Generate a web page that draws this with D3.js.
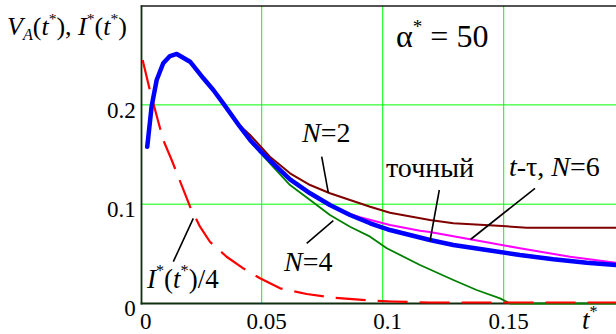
<!DOCTYPE html>
<html>
<head>
<meta charset="utf-8">
<script src="https://cdnjs.cloudflare.com/ajax/libs/d3/7.8.5/d3.min.js"></script>
<style>
  html, body { margin: 0; padding: 0; background: #fff; }
  svg { display: block; }
</style>
</head>
<body>
<svg id="chart" width="616" height="334"></svg>
<script>
// Axis ticks
const xTicks = [0, 0.05, 0.1, 0.15];
const yTicks = [0, 0.1, 0.2];

// Exact solution V_A(t*)
const tExact = [0.0027, 0.0045, 0.0066, 0.0093, 0.0121, 0.0149, 0.0204, 0.0259, 0.0300, 0.0341, 0.0410, 0.0452, 0.0493, 0.0534, 0.0617, 0.0700, 0.0782, 0.0865, 0.0948, 0.1030, 0.1195, 0.1292, 0.1430, 0.1567, 0.1705, 0.1843, 0.1964, 0.2000];
const vExact = [0.1579, 0.1982, 0.2251, 0.2419, 0.2492, 0.2513, 0.2435, 0.2268, 0.2150, 0.2016, 0.1780, 0.1647, 0.1540, 0.1440, 0.1249, 0.1110, 0.0992, 0.0891, 0.0808, 0.0740, 0.0640, 0.0589, 0.0539, 0.0488, 0.0445, 0.0411, 0.0388, 0.0380];

// N = 2
const tN2 = [0.0410, 0.0452, 0.0534, 0.0617, 0.0700, 0.0782, 0.0865, 0.0948, 0.1030, 0.1195, 0.1292, 0.1494, 0.1595, 0.2000];
const vN2 = [0.1790, 0.1697, 0.1478, 0.1311, 0.1193, 0.1110, 0.1042, 0.0975, 0.0914, 0.0841, 0.0808, 0.0780, 0.0764, 0.0764];

// t-tau, N = 6
const tN6 = [0.0782, 0.0865, 0.0906, 0.1030, 0.1154, 0.1195, 0.1361, 0.1567, 0.1774, 0.1964, 0.2000];
const vN6 = [0.0992, 0.0901, 0.0868, 0.0791, 0.0733, 0.0720, 0.0647, 0.0556, 0.0471, 0.0411, 0.0404];

// N = 4
const tN4 = [0.0410, 0.0452, 0.0534, 0.0617, 0.0700, 0.0782, 0.0865, 0.0948, 0.1017, 0.1154, 0.1292, 0.1388, 0.1485, 0.1526, 0.2000];
const vN4 = [0.1780, 0.1629, 0.1412, 0.1193, 0.1042, 0.0891, 0.0773, 0.0673, 0.0556, 0.0388, 0.0237, 0.0136, 0.0052, 0.0000, 0.0000];

// I*(t*)/4
const tI = [0.0008, 0.0041, 0.0093, 0.0128, 0.0204, 0.0245, 0.0286, 0.0355, 0.0424, 0.0493, 0.0576, 0.0686, 0.0782, 0.0961, 0.1040, 0.1195, 0.2000];
const vI = [0.2452, 0.2117, 0.1647, 0.1445, 0.0975, 0.0774, 0.0622, 0.0471, 0.0354, 0.0254, 0.0153, 0.0096, 0.0062, 0.0028, 0.0020, 0.0010, 0.0010];

const FONT = "Times New Roman";
const svg = d3.select("#chart");
const x = d3.scaleLinear().domain([0, 0.2]).range([140.7, 624.7]);
const y = d3.scaleLinear().domain([0, 0.3]).range([303.5, 5.6]);
const W = 616;

// Grid
const grid = svg.append("g").attr("stroke", "#00ff00").attr("stroke-width", 1);
xTicks.filter(d => d > 0).forEach(d => {
  grid.append("line").attr("x1", x(d)).attr("x2", x(d)).attr("y1", y(0.3)).attr("y2", y(0));
});
yTicks.filter(d => d > 0).forEach(d => {
  grid.append("line").attr("x1", x(0)).attr("x2", W).attr("y1", y(d)).attr("y2", y(d));
});

// Frame
svg.append("line").attr("x1", x(0)).attr("x2", W).attr("y1", 6).attr("y2", 6)
  .attr("stroke", "#1a1a1a").attr("stroke-width", 1.6);
svg.append("line").attr("x1", x(0) + 0.8).attr("x2", x(0) + 0.8).attr("y1", 5.5).attr("y2", y(0) + 1)
  .attr("stroke", "#0f2f0f").attr("stroke-width", 1.8);
svg.append("line").attr("x1", x(0)).attr("x2", W).attr("y1", y(0)).attr("y2", y(0))
  .attr("stroke", "#0f2f0f").attr("stroke-width", 1.8);

// Tick labels
const yAxis = svg.append("g").attr("transform", `translate(${x(0)},0)`)
  .call(d3.axisLeft(y).tickValues(yTicks).tickSize(0).tickPadding(5).tickFormat(d => String(d)));
yAxis.select(".domain").remove();
yAxis.selectAll("text").attr("font-size", 23).style("font-family", FONT).attr("fill", "#000").attr("dy", "0.54em");

const xAxis = svg.append("g").attr("transform", `translate(0,${y(0)})`)
  .call(d3.axisBottom(x).tickValues(xTicks).tickSize(0).tickPadding(9.5).tickFormat(d => String(d)));
xAxis.select(".domain").remove();
xAxis.selectAll("text").attr("font-size", 23).style("font-family", FONT).attr("fill", "#000").attr("dx", 4.5);

// Curves
svg.append("clipPath").attr("id", "plot")
  .append("rect").attr("x", x(0)).attr("y", 5).attr("width", W - x(0)).attr("height", y(0) - 3);
const line = d3.line().x(d => x(d[0])).y(d => y(d[1]));
const pairs = (ts, vs) => ts.map((t, i) => [t, vs[i]]);
const curves = svg.append("g").attr("clip-path", "url(#plot)").attr("fill", "none")
  .attr("stroke-linejoin", "round");

curves.append("path").attr("d", line(pairs(tN4, vN4)))
  .attr("stroke", "#008000").attr("stroke-width", 1.8);
curves.append("path").attr("d", line(pairs(tN2, vN2)))
  .attr("stroke", "#800000").attr("stroke-width", 2);
curves.append("path").attr("d", line(pairs(tN6, vN6)))
  .attr("stroke", "#ff00ff").attr("stroke-width", 2);
curves.append("path").attr("d", line(pairs(tI, vI)))
  .attr("stroke", "#ff0000").attr("stroke-width", 2.2).attr("stroke-dasharray", "30,12");
curves.append("path").attr("d", line(pairs(tExact, vExact)))
  .attr("stroke", "#0000ff").attr("stroke-width", 4.5).attr("stroke-linecap", "round");

// Leader lines
const leaders = [
  [321.7, 156.7, 328.3, 192.7],
  [439.3, 190, 430, 241],
  [535, 188.3, 470.5, 239.5],
  [306.7, 243.3, 333.3, 220.7],
  [173.3, 261.7, 193.3, 218.3]
];
svg.append("g").attr("stroke", "#000").attr("stroke-width", 1.6)
  .selectAll("line").data(leaders).join("line")
  .attr("x1", d => d[0]).attr("y1", d => d[1]).attr("x2", d => d[2]).attr("y2", d => d[3]);

// Rich text: each part is [string, {i: italic, sup, sub}]
function rich(px, py, size, parts) {
  const t = svg.append("text").attr("x", px).attr("y", py)
    .attr("font-size", size).attr("fill", "#000").style("font-family", FONT);
  let shift = 0;
  parts.forEach(([s, o]) => {
    const opt = o || {};
    let target = 0;
    let fs = size;
    if (opt.sup) { target = -0.42 * size; fs = size * 0.6; }
    if (opt.sub) { target = 0.22 * size; fs = size * 0.62; }
    const ts = t.append("tspan").text(s).attr("font-size", fs).attr("dy", target - shift)
      .style("font-family", FONT);
    if (opt.i) ts.style("font-style", "italic");
    shift = target;
  });
  return t;
}

rich(7, 34.5, 26, [["V", {i: true}], ["A", {i: true, sub: true}], ["("], ["t", {i: true}], ["*", {sup: true}], ["), "], ["I", {i: true}], ["*", {sup: true}], ["("], ["t", {i: true}], ["*", {sup: true}], [")"]]);
rich(396, 46.5, 32, [["α"], ["*", {sup: true}], [" = 50"]]);
rich(302, 141.5, 28, [["N", {i: true}], ["=2"]]);
rich(386, 176.5, 28, [["точный"]]);
rich(509, 175.5, 28, [["t", {i: true}], ["-τ, "], ["N", {i: true}], ["=6"]]);
rich(284, 271, 28, [["N", {i: true}], ["=4"]]);
rich(147, 287.5, 27, [["I", {i: true}], ["*", {sup: true}], ["("], ["t", {i: true}], ["*", {sup: true}], [")/4"]]);
rich(582, 328.5, 27, [["t", {i: true}], ["*", {sup: true}]]);
</script>
</body>
</html>
